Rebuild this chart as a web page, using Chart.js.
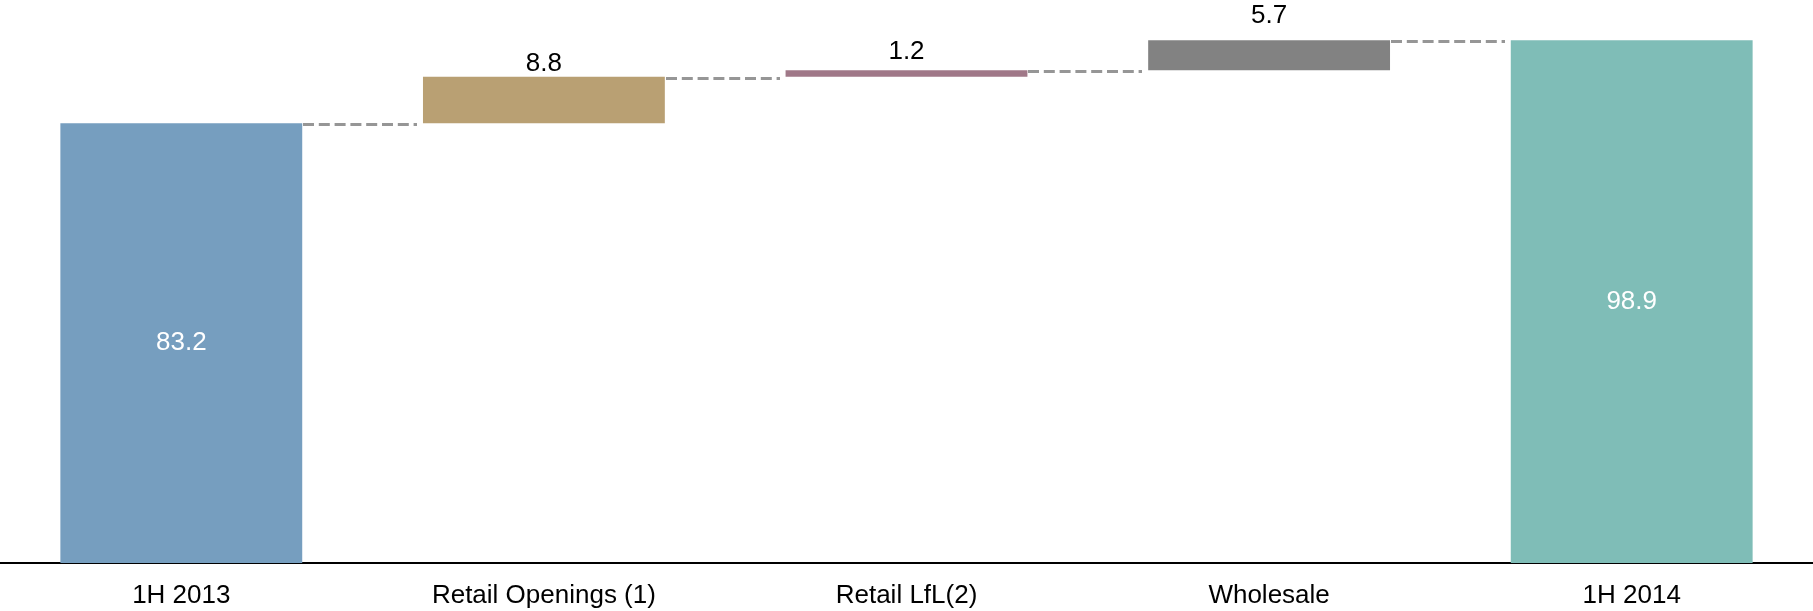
<!DOCTYPE html>
<html>
<head>
<meta charset="utf-8">
<script src="https://cdn.jsdelivr.net/npm/chart.js@4"></script>
<style>
  html, body { margin: 0; padding: 0; background: #fff; }
</style>
</head>
<body>
<canvas id="chart" width="1813" height="611"></canvas>
<script>
(() => {

    // values
    const categories = ['1H 2013', 'Retail Openings (1)', 'Retail LfL(2)', 'Wholesale', '1H 2014'];
    const startTotal = 83.2;
    const changes = [8.8, 1.2, 5.7];
    const endTotal = 98.9;

    const barColors = ['#769EBF', '#B9A073', '#A07888', '#828282', '#7FBDB7'];
    const labelGap = [0, 6, 11, 17, 0];

    // floating bars [from, to]
    const floating = [[0, startTotal]];
    const shown = [startTotal];
    let run = startTotal;
    changes.forEach(c => {
        floating.push([run, run + c]);
        shown.push(c);
        run += c;
    });
    floating.push([0, endTotal]);
    shown.push(endTotal);

    const font = '"Liberation Sans", Arial, sans-serif';

    const waterfallExtras = {
        id: 'waterfallExtras',
        afterDatasetsDraw(chart) {
            const ctx = chart.ctx;
            const bars = chart.getDatasetMeta(0).data;
            const y = chart.scales.y;
            ctx.save();

            // dashed connectors between bar levels
            ctx.strokeStyle = '#969696';
            ctx.lineWidth = 3;
            ctx.setLineDash([11, 4.8]);
            for (let i = 0; i < bars.length - 1; i++) {
                const a = bars[i], b = bars[i + 1];
                const ly = Math.round(y.getPixelForValue(floating[i][1])) + 1.5;
                ctx.beginPath();
                ctx.moveTo(Math.round(a.x + a.width / 2) + 1, ly);
                ctx.lineTo(Math.round(b.x - b.width / 2) - 6, ly);
                ctx.stroke();
            }
            ctx.setLineDash([]);

            ctx.font = '26px ' + font;
            ctx.textAlign = 'center';
            bars.forEach((bar, i) => {
                const txt = shown[i].toFixed(1);
                const top = Math.min(bar.y, bar.base);
                if (i === 0 || i === bars.length - 1) {
                    ctx.fillStyle = '#ffffff';
                    ctx.textBaseline = 'middle';
                    ctx.fillText(txt, bar.x, (bar.y + bar.base) / 2);
                } else {
                    ctx.fillStyle = '#000000';
                    ctx.textBaseline = 'alphabetic';
                    ctx.fillText(txt, bar.x, top - labelGap[i]);
                }
            });
            ctx.restore();
        }
    };

    new Chart(document.getElementById('chart'), {
        type: 'bar',
        data: {
            labels: categories,
            datasets: [{
                data: floating,
                backgroundColor: barColors,
                borderWidth: 0,
                barPercentage: 0.667,
                categoryPercentage: 1
            }]
        },
        options: {
            responsive: false,
            animation: false,
            devicePixelRatio: 1,
            layout: { padding: 0 },
            plugins: {
                legend: { display: false },
                tooltip: { enabled: false }
            },
            scales: {
                x: {
                    grid: { display: false, drawTicks: false },
                    border: { color: '#000000', width: 2 },
                    ticks: { color: '#000000', padding: 17.5, font: { family: font, size: 26 } },
                    afterFit: s => { s.height = 48; }
                },
                y: {
                    display: false,
                    min: 0,
                    max: 106.5
                }
            }
        },
        plugins: [waterfallExtras]
    });

})();
</script>
</body>
</html>
